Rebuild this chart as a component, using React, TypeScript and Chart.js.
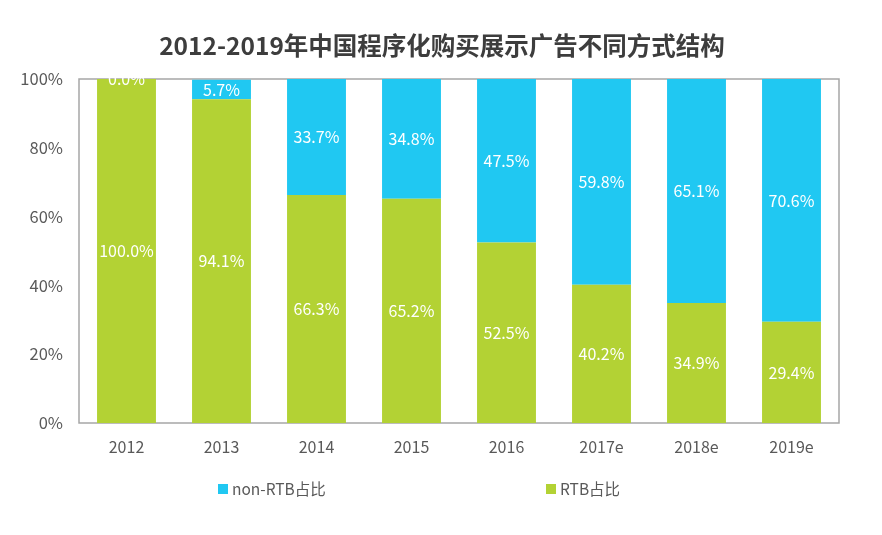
import { useEffect, useRef } from "react";
import { Chart, registerables } from "chart.js";

Chart.register(...registerables);

const years = ["2012", "2013", "2014", "2015", "2016", "2017e", "2018e", "2019e"];
const rtbShare = [100.0, 94.1, 66.3, 65.2, 52.5, 40.2, 34.9, 29.4];
const nonRtbShare = [0.0, 5.7, 33.7, 34.8, 47.5, 59.8, 65.1, 70.6];
const yTicks = [0, 20, 40, 60, 80, 100];
const chartTitle = "2012-2019年中国程序化购买展示广告不同方式结构";
const rtbLabel = "RTB占比";
const nonRtbLabel = "non-RTB占比";

const GREEN = "#b3d234";
const BLUE = "#20c8f2";
const TEXT = "#595959";
const FONT = "'Noto Sans CJK SC', 'Noto Sans', sans-serif";

// title centred on the whole canvas, not just the padded box
const titlePlugin = {
  id: "pageTitle",
  afterDraw(chart: any) {
    const { ctx, width } = chart;
    ctx.save();
    ctx.fillStyle = "#3d3d3d";
    ctx.font = `bold 24.5px ${FONT}`;
    ctx.textAlign = "center";
    ctx.textBaseline = "middle";
    ctx.fillText(chartTitle, width / 2 + 1, 46);
    ctx.restore();
  },
};

// plot frame on all four sides, under the bars
const framePlugin = {
  id: "frame",
  beforeDatasetsDraw(chart: any) {
    const { ctx, chartArea } = chart;
    ctx.save();
    ctx.strokeStyle = "#a6a6a6";
    ctx.lineWidth = 1.5;
    ctx.strokeRect(chartArea.left, chartArea.top, chartArea.right - chartArea.left, chartArea.bottom - chartArea.top);
    ctx.restore();
  },
};

// white percentage in the middle of every segment
const valueLabelPlugin = {
  id: "valueLabels",
  afterDatasetsDraw(chart: any) {
    const { ctx } = chart;
    ctx.save();
    ctx.fillStyle = "#ffffff";
    ctx.font = `16px ${FONT}`;
    ctx.textAlign = "center";
    ctx.textBaseline = "middle";
    chart.data.datasets.forEach((ds: any, di: number) => {
      const meta = chart.getDatasetMeta(di);
      meta.data.forEach((bar: any, i: number) => {
        const v = ds.data[i] as number;
        ctx.fillText(`${v.toFixed(1)}%`, bar.x, (bar.y + bar.base) / 2);
      });
    });
    ctx.restore();
  },
};

// legend spread under the plot like the original
const legendPlugin = {
  id: "spreadLegend",
  afterDraw(chart: any) {
    const { ctx, chartArea } = chart;
    const items = [
      { label: nonRtbLabel, color: BLUE, x: chartArea.left + 139 },
      { label: rtbLabel, color: GREEN, x: chartArea.left + 467 },
    ];
    const y = 489;
    ctx.save();
    ctx.font = `15.5px ${FONT}`;
    ctx.textBaseline = "middle";
    ctx.textAlign = "left";
    items.forEach((it) => {
      ctx.fillStyle = it.color;
      ctx.fillRect(it.x, y - 5, 10, 10);
      ctx.fillStyle = TEXT;
      ctx.fillText(it.label, it.x + 14, y);
    });
    ctx.restore();
  },
};

export default function App() {
  const chartRef = useRef<HTMLCanvasElement>(null);
  const chartInstance = useRef<Chart | null>(null);

  useEffect(() => {
    document.body.style.margin = "0";
    if (!chartRef.current) return;
    if (chartInstance.current) chartInstance.current.destroy();

    const ctx = chartRef.current.getContext("2d");
    if (!ctx) return;

    chartInstance.current = new Chart(ctx, {
      type: "bar",
      data: {
        labels: years,
        datasets: [
          {
            label: rtbLabel,
            data: rtbShare,
            backgroundColor: GREEN,
            borderWidth: 0,
            barPercentage: 0.62,
            categoryPercentage: 1,
          },
          {
            label: nonRtbLabel,
            data: nonRtbShare,
            backgroundColor: BLUE,
            borderWidth: 0,
            barPercentage: 0.62,
            categoryPercentage: 1,
          },
        ],
      },
      options: {
        responsive: true,
        maintainAspectRatio: false,
        animation: false,
        layout: { padding: { left: 0, right: 43, top: 79, bottom: 72 } },
        scales: {
          x: {
            stacked: true,
            grid: { display: false, drawTicks: false },
            border: { display: false },
            ticks: { color: TEXT, font: { family: FONT, size: 16 }, padding: 14 },
            afterFit: (scale: any) => {
              scale.height = 40;
            },
          },
          y: {
            stacked: true,
            min: 0,
            max: 100,
            grid: { display: false, drawTicks: false },
            border: { display: false },
            ticks: {
              color: TEXT,
              font: { family: FONT, size: 16.5 },
              padding: 16,
              callback: (v: any) => `${v}%`,
            },
            afterBuildTicks: (scale: any) => {
              scale.ticks = yTicks.map((value) => ({ value }));
            },
            afterFit: (scale: any) => {
              scale.width = 79;
            },
          },
        },
        plugins: {
          legend: { display: false },
          tooltip: { enabled: false },
          title: { display: false },
        },
      },
      plugins: [titlePlugin, framePlugin, valueLabelPlugin, legendPlugin],
    });

    return () => {
      if (chartInstance.current) {
        chartInstance.current.destroy();
        chartInstance.current = null;
      }
    };
  }, []);

  return (
    <div style={{ width: 882, height: 535, position: "relative" }}>
      <canvas ref={chartRef} />
    </div>
  );
}
